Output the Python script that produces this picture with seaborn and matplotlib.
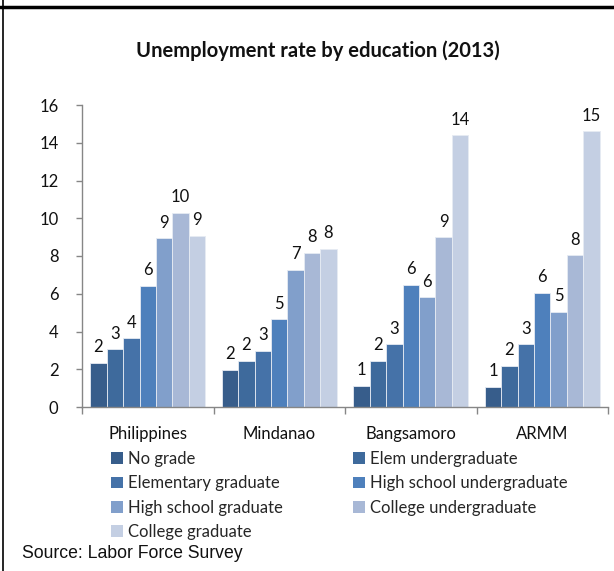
import matplotlib
matplotlib.use("Agg")
import matplotlib.pyplot as plt
from matplotlib.patches import Patch
from matplotlib.lines import Line2D
import seaborn as sns
import pandas as pd

# Unemployment rate (%) by highest educational attainment, 2013
regions = ["Philippines", "Mindanao", "Bangsamoro", "ARMM"]
levels = [
    "No grade",
    "Elem undergraduate",
    "Elementary graduate",
    "High school undergraduate",
    "High school graduate",
    "College undergraduate",
    "College graduate",
]
philippines = [2.33, 3.05, 3.63, 6.42, 8.93, 10.29, 9.07]
mindanao = [1.98, 2.45, 2.99, 4.64, 7.27, 8.17, 8.37]
bangsamoro = [1.12, 2.45, 3.33, 6.48, 5.82, 8.99, 14.4]
armm = [1.06, 2.18, 3.33, 6.06, 5.05, 8.04, 14.6]
y_ticks = [0, 2, 4, 6, 8, 10, 12, 14, 16]

title = "Unemployment rate by education (2013)"
source = "Source: Labor Force Survey"

colors = ["#375D8B", "#3E6A9C", "#4572A8", "#4E80BC", "#819FCB", "#A8B8D6", "#C4CFE3"]

rows = []
for region, values in zip(regions, [philippines, mindanao, bangsamoro, armm]):
    for level, v in zip(levels, values):
        rows.append({"region": region, "level": level, "rate": v})
df = pd.DataFrame(rows)

sns.set_theme(style="white")
plt.rcParams["font.family"] = ["Lato", "DejaVu Sans"]

W, H = 614, 571
fig = plt.figure(figsize=(W / 100, H / 100), dpi=100)
ax = fig.add_axes([82 / W, 1 - 407 / H, (608 - 82) / W, (407 - 105) / H])

sns.barplot(
    data=df, x="region", y="rate", hue="level", order=regions, hue_order=levels,
    palette=colors, saturation=1, width=0.875, gap=0, errorbar=None,
    edgecolor="#E6EBF3", linewidth=0.6, legend=False, ax=ax,
)

for cont in ax.containers:
    vals = [b.get_height() for b in cont]
    ax.bar_label(cont, labels=[f"{v:.0f}" for v in vals], padding=5.5,
                 fontsize=12, color="#111111")

ax.set_ylim(0, 16)
ax.set_xlim(-0.5, len(regions) - 0.5)
ax.set_yticks(y_ticks)
ax.set_xlabel("")
ax.set_ylabel("")

axis_grey = "#868686"
for side in ["top", "right"]:
    ax.spines[side].set_visible(False)
for side in ["left", "bottom"]:
    ax.spines[side].set_color(axis_grey)
    ax.spines[side].set_linewidth(1.0)

ax.tick_params(axis="y", which="major", left=True, length=4, width=1.0,
               color=axis_grey, labelsize=12, labelcolor="#111111", pad=13)
ax.tick_params(axis="x", which="major", bottom=False, length=0,
               labelsize=12, labelcolor="#111111", pad=14)
ax.set_xticks([i - 0.5 for i in range(len(regions) + 1)], minor=True)
ax.tick_params(axis="x", which="minor", bottom=True, length=5, width=1.0,
               color=axis_grey)

fig.text(318 / W, 1 - 51 / H, title, ha="center", va="center",
         fontsize=14.5, fontweight="bold", color="#111111")

# legend in two columns, filled row by row
handles = [Patch(facecolor=c, edgecolor="none") for c in colors]
order = [0, 2, 4, 6, 1, 3, 5]
fig.legend([handles[i] for i in order], [levels[i] for i in order],
           loc="upper left", bbox_to_anchor=(111 / W, 1 - 451 / H), ncol=2,
           frameon=False, fontsize=12, handlelength=0.7, handleheight=0.7,
           handletextpad=0.3, columnspacing=4.25, labelspacing=0.5,
           borderpad=0, borderaxespad=0)

fig.text(22 / W, 1 - 553 / H, source, ha="left", va="center",
         fontsize=12.7, family=["Liberation Sans", "DejaVu Sans"], color="#111111")

# outer frame lines
fig.add_artist(Line2D([0, 1], [1 - 7 / H, 1 - 7 / H], transform=fig.transFigure,
                      color="black", linewidth=2.5))
fig.add_artist(Line2D([3 / W, 3 / W], [0, 1], transform=fig.transFigure,
                      color="black", linewidth=1.2))

fig.savefig("out.png", dpi=100)
